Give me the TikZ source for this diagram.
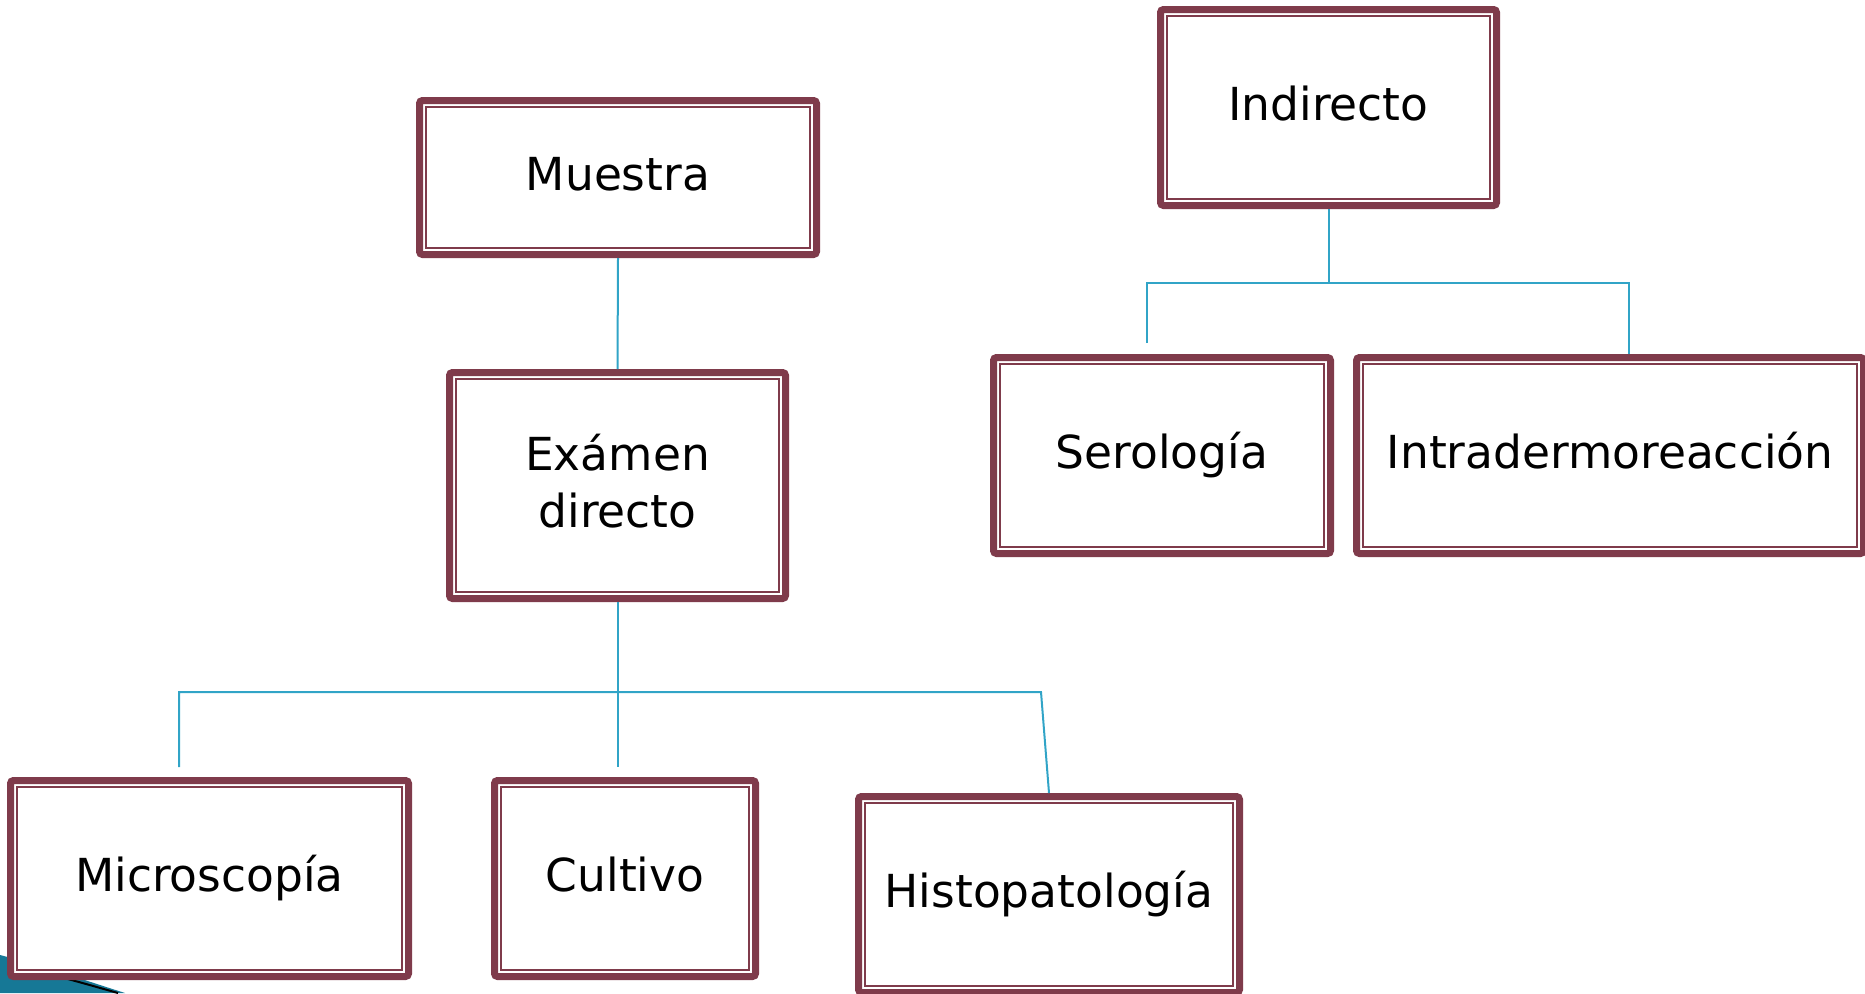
\documentclass[tikz,border=0pt]{standalone}
\usepackage{fontspec}
\setmainfont{DejaVu Sans}
\definecolor{maroon}{RGB}{127,59,75}
\definecolor{conn}{RGB}{49,164,199}
\definecolor{teal}{RGB}{22,120,150}
\newcommand{\boxfont}{\fontsize{45.5}{57}\selectfont}
\newcommand{\ph}{\vphantom{lg}}
\tikzset{
  box/.style={draw=maroon, line width=7pt, rounded corners=3pt, fill=white,
    inner sep=0pt, align=center, font=\boxfont,
    path picture={\draw[maroon, line width=1.6pt, sharp corners]
      ([shift={(6.5pt,6.5pt)}]path picture bounding box.south west) rectangle
      ([shift={(-6.5pt,-6.5pt)}]path picture bounding box.north east);}},
  conn/.style={draw=conn, line width=2pt}
}
\begin{document}
\begin{tikzpicture}[x=1pt,y=-1pt]
\useasboundingbox (0,0) rectangle (1865,993);
% slide decoration
\fill[teal] (0,955) .. controls (50,968) and (90,982) .. (125,993) -- (0,993) -- cycle;
\draw[black, line width=2pt] (45,973) .. controls (80,982) and (100,988) .. (118,993);
% nodes
\node[box, minimum width=397pt, minimum height=154pt] (muestra) at (618,177.5) {Muestra\ph};
\node[box, minimum width=336pt, minimum height=226pt] (examen) at (617.5,485.5) {Exámen\\directo\ph};
\node[box, minimum width=336pt, minimum height=196pt] (indirecto) at (1328.5,107.5) {Indirecto\ph};
\node[box, minimum width=337pt, minimum height=196pt] (serologia) at (1162,455.5) {Serología\ph};
\node[box, minimum width=507pt, minimum height=196pt] (intra) at (1610,455.5) {Intradermoreacción\ph};
\node[box, minimum width=398pt, minimum height=196pt] (micro) at (209.5,878.5) {Microscopía\ph};
\node[box, minimum width=261pt, minimum height=196pt] (cultivo) at (625,878.5) {Cultivo\ph};
\node[box, minimum width=381pt, minimum height=196pt] (histo) at (1049,894.5) {Histopatología\ph};
% connector coordinates
\coordinate (bl) at (179,692);
\coordinate (bm) at (617.5,692);
\coordinate (br) at (1041,692);
\coordinate (blend) at (179,767);
\coordinate (bmend) at (617.5,767);
\coordinate (tm) at (1328.5,283);
\coordinate (tl) at (1147,283);
\coordinate (tr) at (1629,283);
\coordinate (tlend) at (1147,343);
% connectors
\draw[conn] (muestra.south) -- (examen.north);
\draw[conn] (examen.south) -- (bm) -- (bmend);
\draw[conn] (blend) -- (bl) -- (br) -- (histo.north);
\draw[conn] (indirecto.south) -- (tm);
\draw[conn] (tlend) -- (tl) -- (tr) -- (tr |- intra.north);
\end{tikzpicture}
\end{document}
